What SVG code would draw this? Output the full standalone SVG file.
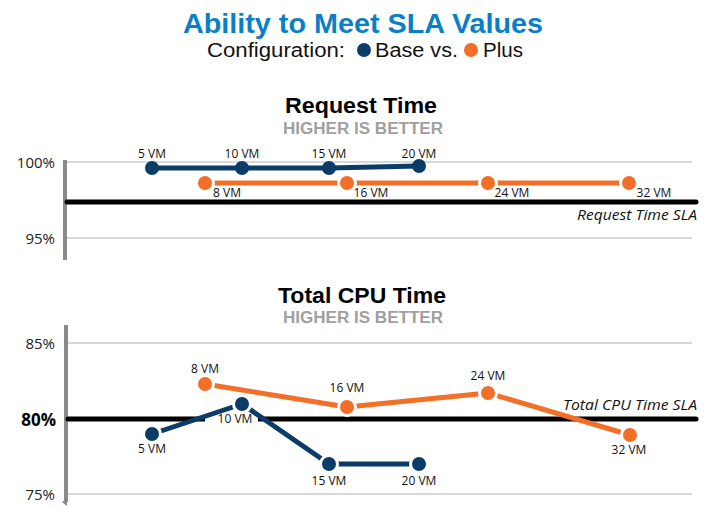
<svg xmlns="http://www.w3.org/2000/svg" width="710" height="508" viewBox="0 0 710 508">
<style>
text{font-family:"Open Sans","Liberation Sans",sans-serif}
.title{font-family:"Liberation Sans","Open Sans",sans-serif;font-size:27px;font-weight:bold;fill:#0a7fc7}
.sub{font-family:"Liberation Sans","Open Sans",sans-serif;font-size:20px;fill:#111}
.ct{font-family:"Liberation Sans","Open Sans",sans-serif;font-size:22px;font-weight:bold;fill:#000}
.hib{font-family:"Liberation Sans","Open Sans",sans-serif;font-size:16px;font-weight:bold;fill:#a0a0a0}
.ax{font-size:15px;fill:#222}
.axb{font-size:17px;font-weight:bold;fill:#000}
.vm{font-size:12px;fill:#111}
.sla{font-size:14px;font-style:italic;fill:#111}
.grid{stroke:#c8ccd0;stroke-width:1.5}
.axis{stroke:#8a8a8a;stroke-width:4}
.slaline{stroke:#000;stroke-width:5;stroke-linecap:round}
.base{stroke:#0b3c68;stroke-width:5;fill:none;stroke-linejoin:round}
.plus{stroke:#f36f27;stroke-width:5;fill:none;stroke-linejoin:round}
.bd{fill:#0b3c68;stroke:#fff;stroke-width:3}
.pd{fill:#f36f27;stroke:#fff;stroke-width:3}
</style>
<defs>
<marker id="arr" markerWidth="8" markerHeight="6" refX="4" refY="1" orient="auto-start-reverse" markerUnits="userSpaceOnUse" viewBox="0 0 8 6">
<path d="M0,0 L8,0 L4,5 z" fill="#8a8a8a"/>
</marker>
</defs>

<g id="header">
<text class="title" x="183" y="33" textLength="360" lengthAdjust="spacingAndGlyphs">Ability to Meet SLA Values</text>
<text class="sub" x="207" y="57" textLength="138" lengthAdjust="spacingAndGlyphs">Configuration:</text>
<circle cx="364" cy="50" r="7" fill="#0b3c68"/>
<text class="sub" x="375" y="57" textLength="83" lengthAdjust="spacingAndGlyphs">Base vs.</text>
<circle cx="471" cy="50" r="7" fill="#f36f27"/>
<text class="sub" x="483" y="57" textLength="40" lengthAdjust="spacingAndGlyphs">Plus</text>
</g>

<g id="chart-request-time">
<text class="ct" x="285" y="113" textLength="152" lengthAdjust="spacingAndGlyphs">Request Time</text>
<text class="hib" x="283" y="134" textLength="160" lengthAdjust="spacingAndGlyphs">HIGHER IS BETTER</text>
<line class="grid" x1="67" y1="162" x2="692" y2="162"/>
<line class="grid" x1="67" y1="238" x2="692" y2="238"/>
<line class="axis" x1="65" y1="160" x2="65" y2="260"/>
<text class="ax" x="55" y="168" text-anchor="end">100%</text>
<text class="ax" x="55" y="244" text-anchor="end">95%</text>
<line class="slaline" x1="67" y1="202" x2="696" y2="202"/>
<text class="sla" x="577" y="220" textLength="120" lengthAdjust="spacingAndGlyphs">Request Time SLA</text>
</g>

<g id="chart-cpu-time">
<text class="ct" x="278" y="303" textLength="168" lengthAdjust="spacingAndGlyphs">Total CPU Time</text>
<text class="hib" x="283" y="323" textLength="160" lengthAdjust="spacingAndGlyphs">HIGHER IS BETTER</text>
<line class="grid" x1="67" y1="343" x2="692" y2="343"/>
<line class="grid" x1="67" y1="494" x2="692" y2="494"/>
<line class="axis" x1="66" y1="325" x2="66" y2="502" marker-end="url(#arr)"/>
<text class="ax" x="55" y="349" text-anchor="end">85%</text>
<text class="axb" x="56" y="426" text-anchor="end">80%</text>
<text class="ax" x="55" y="500" text-anchor="end">75%</text>
<line class="slaline" x1="68" y1="419" x2="696" y2="419"/>
<text class="sla" x="563" y="410" textLength="134" lengthAdjust="spacingAndGlyphs">Total CPU Time SLA</text>
<rect x="205" y="412" width="53" height="14" fill="#fff"/>
</g>

<g id="connectors">
<polyline class="plus" points="205,183 347,183 488,183 629,183"/>
<polyline class="base" points="152,168 242,168 329,168 419,166"/>
<polyline class="plus" points="205,384 347,407 488,393 630,435"/>
<polyline class="base" points="152,434 242,404 329,464 419,464"/>
</g>

<g id="series-plus-request">
<circle class="pd" cx="205" cy="183" r="8.5"/>
<circle class="pd" cx="347" cy="183" r="8.5"/>
<circle class="pd" cx="488" cy="183" r="8.5"/>
<circle class="pd" cx="629" cy="183" r="8.5"/>
<text class="vm" x="227" y="197" text-anchor="middle">8 VM</text>
<text class="vm" x="371" y="197" text-anchor="middle">16 VM</text>
<text class="vm" x="512" y="197" text-anchor="middle">24 VM</text>
<text class="vm" x="654" y="197" text-anchor="middle">32 VM</text>
</g>

<g id="series-base-request">
<circle cx="152" cy="168" r="7" fill="#0b3c68"/>
<circle cx="242" cy="168" r="7" fill="#0b3c68"/>
<circle cx="329" cy="168" r="7" fill="#0b3c68"/>
<circle cx="419" cy="166" r="7" fill="#0b3c68"/>
<text class="vm" x="152" y="158" text-anchor="middle">5 VM</text>
<text class="vm" x="242" y="158" text-anchor="middle">10 VM</text>
<text class="vm" x="329" y="158" text-anchor="middle">15 VM</text>
<text class="vm" x="419" y="158" text-anchor="middle">20 VM</text>
</g>

<g id="series-plus-cpu">
<circle class="pd" cx="205" cy="384" r="8.5"/>
<circle class="pd" cx="347" cy="407" r="8.5"/>
<circle class="pd" cx="488" cy="393" r="8.5"/>
<circle class="pd" cx="630" cy="435" r="8.5"/>
<text class="vm" x="205" y="373" text-anchor="middle">8 VM</text>
<text class="vm" x="347" y="392" text-anchor="middle">16 VM</text>
<text class="vm" x="488" y="380" text-anchor="middle">24 VM</text>
<text class="vm" x="629" y="454" text-anchor="middle">32 VM</text>
</g>

<g id="series-base-cpu">
<circle class="bd" cx="152" cy="434" r="8.5"/>
<circle class="bd" cx="242" cy="404" r="8.5"/>
<circle class="bd" cx="329" cy="464" r="8.5"/>
<circle class="bd" cx="419" cy="464" r="8.5"/>
<text class="vm" x="152" y="453" text-anchor="middle">5 VM</text>
<text class="vm" x="235" y="423" text-anchor="middle">10 VM</text>
<text class="vm" x="329" y="485" text-anchor="middle">15 VM</text>
<text class="vm" x="419" y="485" text-anchor="middle">20 VM</text>
</g>
</svg>
